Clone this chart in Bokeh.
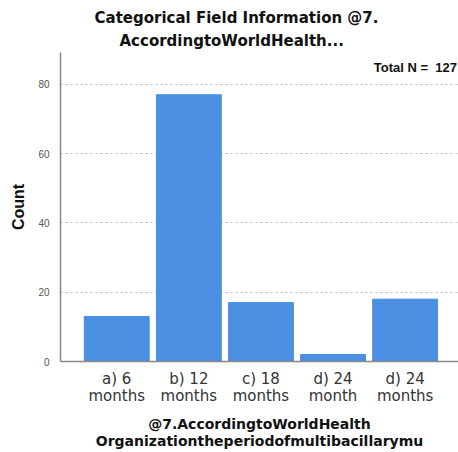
from bokeh.plotting import figure
from bokeh.models import Label, Range1d, FixedTicker, Title
from bokeh.embed import file_html
from bokeh.resources import INLINE

title_lines = ["Categorical Field Information @7.", "AccordingtoWorldHealth..."]
categories = ["a) 6\nmonths", "b) 12\nmonths", "c) 18\nmonths", "d) 24\nmonth", "d) 24\nmonths"]
counts = [13, 77, 17, 2, 18]
y_ticks = [0, 20, 40, 60, 80]
total_n = sum(counts)

xs = list(range(len(categories)))

p = figure(width=458, height=452, output_backend="svg", toolbar_location=None,
           x_range=Range1d(-0.78, 4.74), y_range=Range1d(0, 89.2),
           min_border_left=60, min_border_right=0, min_border_top=52, min_border_bottom=91)
p.outline_line_color = None

p.vbar(x=xs, top=counts, width=0.9, color="#4a8fe2", line_color="#4a8fe2")

# stacked outward: first added sits nearest the plot
title_offsets = {0: 34, 1: 59}
for i, line in reversed(list(enumerate(title_lines))):
    t = Title(text=line, align="left",
              text_font="DejaVu Sans", text_font_size="15px", text_font_style="bold",
              text_color="#111111", offset=title_offsets[i], standoff=(6 if i == 1 else 0),
              text_line_height=0.85)
    p.add_layout(t, "above")

p.xaxis.ticker = FixedTicker(ticks=xs)
p.xaxis.major_label_overrides = {i: c for i, c in zip(xs, categories)}
p.xaxis.major_label_text_font = "DejaVu Sans"
p.xaxis.major_label_text_font_size = "15px"
p.xaxis.major_label_text_color = "#333333"
p.xaxis.major_label_text_line_height = 0.95
p.xaxis.major_label_standoff = 2
p.xaxis.major_tick_line_color = None
p.xaxis.minor_tick_line_color = None
p.xaxis.axis_line_color = "#888888"
p.xaxis.axis_line_width = 1.5
p.xaxis.axis_label = "@7.AccordingtoWorldHealth\nOrganizationtheperiodofmultibacillarymu"
p.xaxis.axis_label_text_font = "DejaVu Sans"
p.xaxis.axis_label_text_font_size = "14px"
p.xaxis.axis_label_text_font_style = "bold"
p.xaxis.axis_label_text_color = "#111111"
p.xaxis.axis_label_text_line_height = 1.1
p.xaxis.axis_label_standoff = 8

p.yaxis.ticker = FixedTicker(ticks=y_ticks)
p.yaxis.major_label_text_font = "Liberation Sans"
p.yaxis.major_label_text_font_size = "10px"
p.yaxis.major_label_text_color = "#555555"
p.yaxis.major_tick_line_color = None
p.yaxis.minor_tick_line_color = None
p.yaxis.axis_line_color = "#888888"
p.yaxis.axis_line_width = 1.5
p.yaxis.axis_label = "Count"
p.yaxis.axis_label_text_font = "Liberation Sans"
p.yaxis.axis_label_text_font_size = "16px"
p.yaxis.axis_label_text_font_style = "bold"
p.yaxis.axis_label_text_color = "#111111"
p.yaxis.axis_label_standoff = 8

p.xgrid.grid_line_color = None
p.ygrid.grid_line_color = "#bbbbbb"
p.ygrid.grid_line_dash = "2 3"

lbl = Label(x=4.72, y=84.9, text=f"Total N =\u00a0 {total_n}", text_align="right",
            text_baseline="middle",
            text_font="Liberation Sans", text_font_size="13px", text_font_style="bold",
            text_color="#111111")
p.add_layout(lbl)

open("out.html", "w").write(file_html(p, INLINE))
